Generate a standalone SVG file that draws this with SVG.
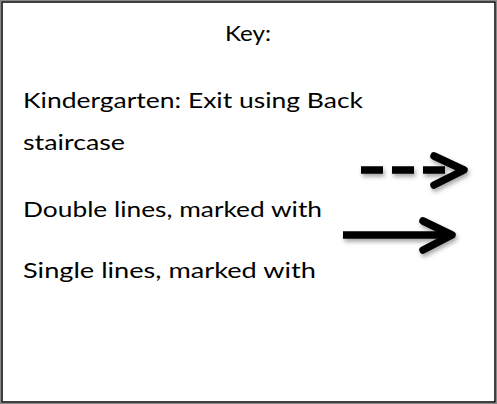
<svg xmlns="http://www.w3.org/2000/svg" width="497" height="404" viewBox="0 0 497 404">
<defs>
<style>
.t{font-family:Lato,"Liberation Sans","Noto Sans",sans-serif;font-size:21.5px;fill:#000}
.a{fill:none;stroke:#000;stroke-width:7.5;stroke-linecap:round;stroke-linejoin:round}
</style>
<filter id="sh" x="-20%" y="-50%" width="150%" height="200%">
<feDropShadow dx="1.5" dy="3" stdDeviation="2" flood-color="#000" flood-opacity="0.35"/>
</filter>
</defs>
<rect x="0" y="0" width="497" height="404" fill="#fff"/>
<g id="frame">
<rect x="0.5" y="0.5" width="496" height="403" fill="none" stroke="#888" stroke-width="1"/>
<rect x="2" y="2" width="493" height="400" fill="none" stroke="#111" stroke-width="1.6"/>
</g>
<g id="title"><text class="t" x="225" y="41" textLength="46" lengthAdjust="spacingAndGlyphs">Key:</text></g>
<g id="kindergarten">
<text class="t" x="23" y="108" textLength="340" lengthAdjust="spacingAndGlyphs">Kindergarten: Exit using Back</text>
<text class="t" x="23" y="150" textLength="102" lengthAdjust="spacingAndGlyphs">staircase</text>
</g>
<g id="double"><text class="t" x="23" y="217" textLength="299" lengthAdjust="spacingAndGlyphs">Double lines, marked with</text></g>
<g id="single"><text class="t" x="23" y="278" textLength="293" lengthAdjust="spacingAndGlyphs">Single lines, marked with</text></g>
<g id="connectors" filter="url(#sh)">
<g id="dashed-arrow">
<path d="M361 170 H448" fill="none" stroke="#000" stroke-width="7.5" stroke-dasharray="22 9"/>
<path class="a" d="M434 156 L464 170 L434 185"/>
</g>
<g id="solid-arrow">
<path d="M343 235 H450" fill="none" stroke="#000" stroke-width="7.5"/>
<path class="a" d="M423 221 L452 235 L423 250"/>
</g>
</g>
</svg>
